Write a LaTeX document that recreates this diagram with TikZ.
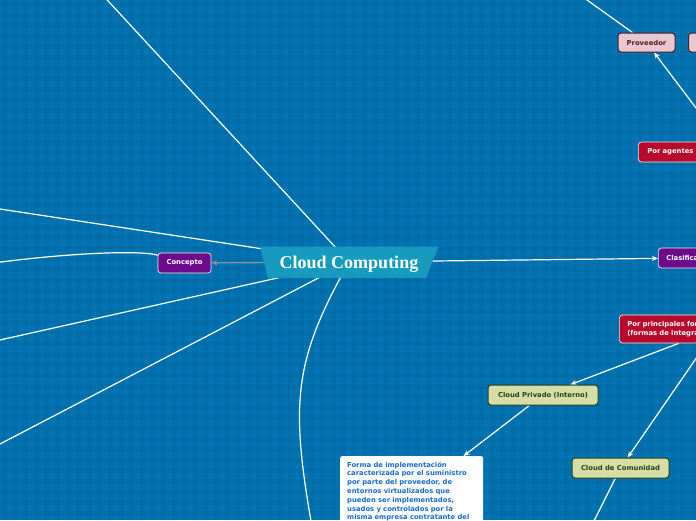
\documentclass[tikz,border=0pt]{standalone}
\usepackage{fontspec}
\newfontfamily\nodefont{DejaVu Sans}
\newfontfamily\titlefont{Liberation Serif}
\usetikzlibrary{arrows.meta}
\pgfdeclarelayer{bg}
\pgfdeclarelayer{edges}
\pgfsetlayers{bg,edges,main}
\definecolor{bgblue}{RGB}{4,117,180}
\definecolor{ccteal}{RGB}{22,154,190}
\definecolor{mpurple}{RGB}{108,12,140}
\definecolor{mred}{RGB}{184,10,45}
\definecolor{mpink}{RGB}{232,200,207}
\definecolor{mpinkdark}{RGB}{90,22,38}
\definecolor{mgreen}{RGB}{214,222,166}
\definecolor{mgreendark}{RGB}{38,66,26}
\definecolor{tblue}{RGB}{24,108,205}
\definecolor{cgray}{RGB}{140,140,155}
\begin{document}
\begin{tikzpicture}[x=1pt,y=-1pt,
  every node/.style={font=\nodefont\bfseries\fontsize{6.8}{8.8}\selectfont},
  mbox/.style={rounded corners=3pt, inner sep=0pt, minimum height=20pt},
  purplebox/.style={mbox, fill=mpurple, draw=white!85!gray, line width=0.7pt, text=white},
  redbox/.style={mbox, fill=mred, draw=white!85!gray, line width=0.7pt, text=white},
  pinkbox/.style={mbox, fill=mpink, draw=mpinkdark, line width=1pt, text=mpinkdark, minimum height=19pt},
  greenbox/.style={mbox, fill=mgreen, draw=mgreendark, line width=1pt, text=mgreendark},
  wline/.style={draw=white, line width=1.2pt},
  warrow/.style={wline, -{Stealth[length=6pt,width=5pt]}},
  garrow/.style={draw=cgray, line width=1.4pt, -{Stealth[length=6pt,width=5pt]}},
  textbox/.style={fill=white, rounded corners=2pt, text=tblue, align=left, text width=129pt, inner xsep=7pt, inner ysep=5.5pt, font=\nodefont\bfseries\fontsize{6.8}{8.8}\selectfont},
  titletext/.style={text=white, inner sep=0pt, font=\titlefont\bfseries\fontsize{18}{18}\selectfont}
]
\useasboundingbox (0,0) rectangle (696,520);

\begin{pgfonlayer}{bg}
\fill[bgblue] (0,0) rectangle (696,520);
\foreach \i in {0,...,66} {\fill[black,opacity=0.035] ({\i*10.6+2},0) rectangle ++(5,520);}
\foreach \j in {0,...,49} {\fill[black,opacity=0.035] (0,{\j*10.6+2}) rectangle ++(696,5);}
\end{pgfonlayer}

% central topic
\fill[ccteal] (260,246.5) -- (438.5,246.5) -- (426,278) -- (268,278) -- cycle;
\node[titletext, anchor=base] (cc) at (349,268) {Cloud Computing};
\coordinate (hub) at (349,262);

% nodes
\node[purplebox, minimum width=53pt] (conc) at (184.5,263) {Concepto};
\node[purplebox, anchor=west, inner xsep=8pt] (clas) at (658,258) {Clasificación};
\node[redbox, anchor=west, inner xsep=9pt, text width=164pt, align=left] (pa) at (638,152) {Por agentes};
\node[redbox, anchor=west, inner xsep=8pt, text width=178pt, align=left, minimum height=28pt] (pp) at (619,329) {Por principales formas\\(formas de integración)};
\node[pinkbox, minimum width=57pt] (prov) at (646.5,42.5) {Proveedor};
\node[pinkbox, anchor=west, minimum width=50pt] (prov2) at (688,42.5) {};
\node[greenbox, minimum width=110pt] (cpriv) at (543,395) {Cloud Privado (Interno)};
\node[greenbox, minimum width=97pt] (ccom) at (620.5,468) {Cloud de Comunidad};
\node[textbox, anchor=north west] (tbox) at (340,456) {Forma de implementación\\caracterizada por el suministro\\por parte del proveedor, de\\entornos virtualizados que\\pueden ser implementados,\\usados y controlados por la\\misma empresa contratante del\rule[-10pt]{0pt}{1pt}};

% free ends
\coordinate (ftop) at (98,-10);
\coordinate (fl1) at (-10,207.5);
\coordinate (fl2) at (-10,342.2);
\coordinate (fl3) at (-10,449.2);
\coordinate (fbot) at (311,521);
\coordinate (fconc) at (-3,262.5);
\coordinate (provup) at (573,-10);
\coordinate (fcom) at (588,533);

\begin{pgfonlayer}{edges}
\draw[wline] (hub) -- (ftop);
\draw[wline] (hub) -- (fl1);
\draw[wline] (hub) -- (fl2);
\draw[wline] (hub) -- (fl3);
\draw[wline] (hub) .. controls (295,358) and (290,400) .. (fbot);
\draw[garrow] (hub) -- (conc);
\draw[warrow] (hub) -- (clas);
\draw[wline] (conc) .. controls (140,250) and (70,253) .. (fconc);
\draw[warrow] (pa) -- (prov);
\draw[wline] (prov) -- (provup);
\draw[warrow] (pp) -- (cpriv);
\draw[warrow] (pp) -- (ccom);
\draw[warrow] (cpriv) -- (tbox);
\draw[wline] (ccom) -- (fcom);
\end{pgfonlayer}
\end{tikzpicture}
\end{document}
